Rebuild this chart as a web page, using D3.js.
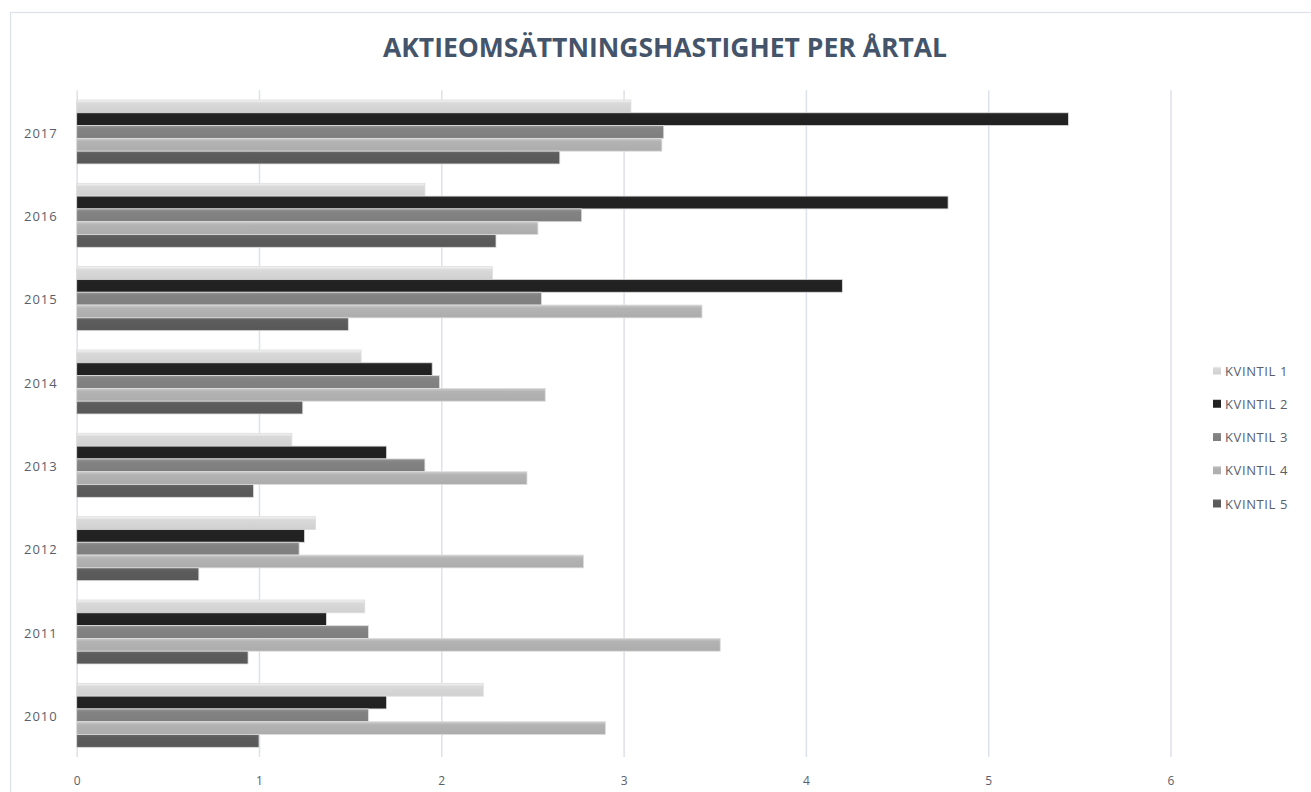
<!DOCTYPE html>
<html>
<head>
<meta charset="utf-8">
<script src="https://cdn.jsdelivr.net/npm/d3@7"></script>
<style>
  html, body { margin: 0; padding: 0; background: #ffffff; }
  svg { display: block; }
</style>
</head>
<body>
<svg id="chart" width="1311" height="792"></svg>
<script>
// Turnover rate per year, split by quintile
const years = ["2017", "2016", "2015", "2014", "2013", "2012", "2011", "2010"];
const seriesNames = ["KVINTIL 1", "KVINTIL 2", "KVINTIL 3", "KVINTIL 4", "KVINTIL 5"];
const kvintil1 = [3.04, 1.91, 2.28, 1.56, 1.18, 1.31, 1.58, 2.23];
const kvintil2 = [5.44, 4.78, 4.20, 1.95, 1.70, 1.25, 1.37, 1.70];
const kvintil3 = [3.22, 2.77, 2.55, 1.99, 1.91, 1.22, 1.60, 1.60];
const kvintil4 = [3.21, 2.53, 3.43, 2.57, 2.47, 2.78, 3.53, 2.90];
const kvintil5 = [2.65, 2.30, 1.49, 1.24, 0.97, 0.67, 0.94, 1.00];
const xTicks = [0, 1, 2, 3, 4, 5, 6];
const seriesValues = [kvintil1, kvintil2, kvintil3, kvintil4, kvintil5];
const seriesColors = ["#d9d9d9", "#222222", "#838383", "#b3b3b3", "#5c5c5c"];

const svg = d3.select("#chart");
const textColor = "#595e6b";
const gridColor = "#dde1e9";

// outer chart frame
svg.append("rect")
  .attr("x", 10.5).attr("y", 12.5)
  .attr("width", 1320).attr("height", 800)
  .attr("fill", "#ffffff")
  .attr("stroke", gridColor).attr("stroke-width", 1.2);

// title
svg.append("text")
  .attr("x", 665).attr("y", 57)
  .attr("text-anchor", "middle")
  .attr("font-family", "'Open Sans', sans-serif")
  .attr("font-weight", 700)
  .attr("font-size", 26.5)
  .attr("fill", "#44546a")
  .text("AKTIEOMSÄTTNINGSHASTIGHET PER ÅRTAL");

const plotTop = 90.3, plotBottom = 757;
const x = d3.scaleLinear().domain([0, 6]).range([76.7, 1170.5]);
const y = d3.scaleBand().domain(years).range([plotTop, plotBottom])
  .paddingInner(0.232).paddingOuter(0.116);
const yInner = d3.scaleBand().domain(seriesNames).range([0, y.bandwidth()]);

// vertical shading per series
const defs = svg.append("defs");
seriesColors.forEach((c, i) => {
  const base = d3.color(c);
  const g = defs.append("linearGradient")
    .attr("id", "grad" + i)
    .attr("x1", 0).attr("y1", 0).attr("x2", 0).attr("y2", 1);
  g.append("stop").attr("offset", "0%").attr("stop-color", base.brighter(0.35).formatHex());
  g.append("stop").attr("offset", "25%").attr("stop-color", base.formatHex());
  g.append("stop").attr("offset", "100%").attr("stop-color", base.darker(0.12).formatHex());
});

// gridlines
const xAxis = d3.axisBottom(x).tickValues(xTicks).tickSize(-(plotBottom - plotTop)).tickFormat(d3.format("d"));
const gx = svg.append("g")
  .attr("transform", `translate(0,${plotBottom})`)
  .call(xAxis);
gx.select(".domain").remove();
gx.selectAll(".tick line").attr("stroke", gridColor).attr("stroke-width", 1.5);
gx.selectAll(".tick text")
  .attr("y", 19)
  .attr("fill", textColor)
  .attr("font-family", "'Open Sans', sans-serif")
  .attr("font-size", 12);

// year labels
const yAxis = d3.axisLeft(y).tickSize(0).tickPadding(19);
const gy = svg.append("g").attr("transform", `translate(${x(0)},1.5)`).call(yAxis);
gy.select(".domain").remove();
gy.selectAll(".tick text")
  .attr("fill", textColor)
  .attr("font-family", "'Open Sans', sans-serif")
  .attr("font-size", 13)
  .attr("letter-spacing", 1);

// bars
const rows = [];
years.forEach((yr, yi) => {
  seriesNames.forEach((s, si) => {
    rows.push({ year: yr, series: s, si: si, value: seriesValues[si][yi] });
  });
});

svg.append("g").selectAll("rect")
  .data(rows)
  .join("rect")
  .attr("x", x(0))
  .attr("y", d => y(d.year) + yInner(d.series))
  .attr("width", d => x(d.value) - x(0))
  .attr("height", yInner.bandwidth())
  .attr("fill", d => `url(#grad${d.si})`)
  .attr("stroke", "#dcdcdc")
  .attr("stroke-width", 0.8);

// legend
const legend = svg.append("g").attr("transform", "translate(1213,0)");
const legendY = d3.scalePoint().domain(seriesNames).range([371, 504]);
const items = legend.selectAll("g").data(seriesNames).join("g")
  .attr("transform", d => `translate(0,${legendY(d)})`);
items.append("rect")
  .attr("x", 0).attr("y", -4.5).attr("width", 8).attr("height", 8)
  .attr("fill", (d, i) => `url(#grad${i})`);
items.append("text")
  .attr("x", 12).attr("y", 0).attr("dy", "0.35em")
  .attr("fill", textColor)
  .attr("font-family", "'Open Sans', sans-serif")
  .attr("font-size", 13)
  .attr("letter-spacing", 0.6)
  .text(d => d);
</script>
</body>
</html>
